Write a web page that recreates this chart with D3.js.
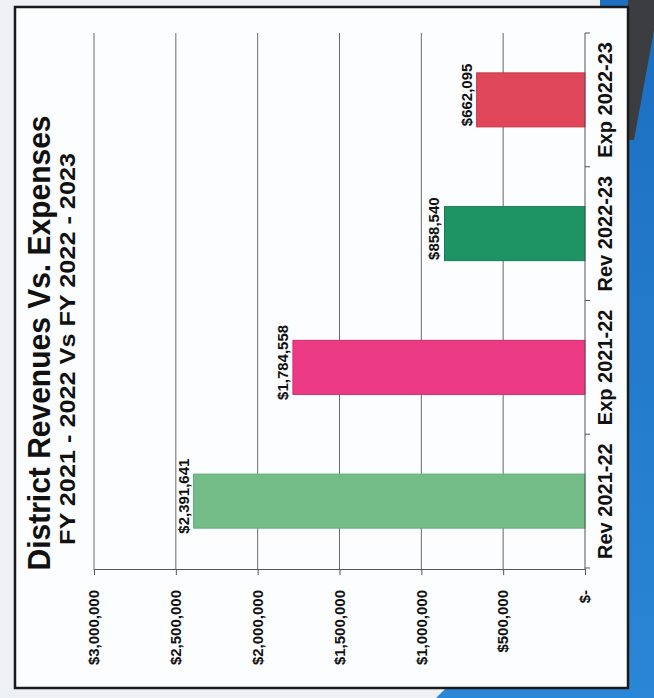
<!DOCTYPE html>
<html>
<head>
<meta charset="utf-8">
<script src="https://cdn.jsdelivr.net/npm/d3@7"></script>
<style>
  html, body { margin: 0; padding: 0; background: #f2f4f6; }
  svg { display: block; }
  text { font-family: "Liberation Sans", Arial, Helvetica, sans-serif; fill: #111; }
</style>
</head>
<body>
<svg id="chart" width="654" height="698"></svg>
<script>
// ---- data ----
const categories = ["Rev 2021-22", "Exp 2021-22", "Rev 2022-23", "Exp 2022-23"];
const values = [2391641, 1784558, 858540, 662095];
const barColors = ["#74bd89", "#ec3a84", "#1e9464", "#e0475a"];
const barStrokes = ["#5fae74", "#d22a70", "#177c52", "#c93649"];
const valueTicks = [0, 500000, 1000000, 1500000, 2000000, 2500000, 3000000];
const titleText = "District Revenues Vs. Expenses";
const subtitleText = "FY 2021 - 2022 Vs FY 2022 - 2023";

const W = 654, H = 698;
const svg = d3.select("#chart");

// ---- photo background (page + surroundings) ----
svg.append("rect").attr("width", W).attr("height", H).attr("fill", "#eef1f4");
const grad = svg.append("defs").append("linearGradient")
  .attr("id", "blueGrad").attr("x1", 0).attr("y1", 0).attr("x2", 0).attr("y2", 1);
grad.append("stop").attr("offset", 0).attr("stop-color", "#1d6fc0");
grad.append("stop").attr("offset", 1).attr("stop-color", "#2a86d6");
svg.append("polygon")
  .attr("points", "600,0 654,0 654,698 436,698 446,688 600,688")
  .attr("fill", "url(#blueGrad)");
svg.append("polygon")
  .attr("points", "586,0 654,0 654,30 634,140 628,140 628,0")
  .attr("fill", "#3b3d40");

// page
svg.append("rect")
  .attr("x", 15).attr("y", 7).attr("width", 613).attr("height", 681)
  .attr("fill", "#fbfdfe").attr("stroke", "#1a1a1a").attr("stroke-width", 2.5);

// ---- chart drawn in its own orientation, then rotated onto the page ----
const g = svg.append("g").attr("transform", `translate(0,${H}) rotate(-90)`);
// in g: x = 698 - imageY, y = imageX

const x = d3.scaleBand().domain(categories).range([130, 665]).paddingInner(0.596).paddingOuter(0.298);
const y = d3.scaleLinear().domain([0, 3000000]).range([585, 94]);

// gridlines
g.append("g").selectAll("line").data(valueTicks.filter(v => v > 0)).join("line")
  .attr("x1", 128).attr("x2", 665)
  .attr("y1", d => y(d)).attr("y2", d => y(d))
  .attr("stroke", "#6a6a6a").attr("stroke-width", 1);

// value axis
const fmt = v => v === 0 ? "$-" : "$" + d3.format(",")(v);
const yAxis = g.append("g").attr("transform", "translate(128,0)")
  .call(d3.axisLeft(y).tickValues(valueTicks).tickSize(5).tickPadding(15).tickFormat(fmt));
yAxis.select(".domain").attr("stroke", "#555");
yAxis.selectAll(".tick line").attr("stroke", "#555");
yAxis.selectAll("text").style("font-size", "15px").style("font-weight", "bold")
  .style("font-family", "'Liberation Sans', Arial, sans-serif").attr("fill", "#111");

// bars
g.append("g").selectAll("rect").data(values).join("rect")
  .attr("x", (d, i) => x(categories[i]))
  .attr("width", x.bandwidth())
  .attr("y", d => y(d))
  .attr("height", d => y(0) - y(d))
  .attr("fill", (d, i) => barColors[i])
  .attr("stroke", (d, i) => barStrokes[i]).attr("stroke-width", 1);

// category axis
const xAxis = g.append("g").attr("transform", `translate(0,${y(0)})`)
  .call(d3.axisBottom(x).tickSize(0).tickPadding(13));
xAxis.select(".domain").remove();
xAxis.selectAll("text").style("font-size", "20px").style("font-weight", "bold")
  .style("font-family", "'Liberation Sans', Arial, sans-serif").attr("fill", "#111");
g.append("line").attr("x1", 128).attr("x2", 665).attr("y1", y(0)).attr("y2", y(0))
  .attr("stroke", "#555");
const bounds = d3.range(categories.length + 1).map(i => x.range()[0] + i * x.step());
g.append("g").selectAll("line").data(bounds).join("line")
  .attr("x1", d => d).attr("x2", d => d)
  .attr("y1", y(0)).attr("y2", y(0) + 5).attr("stroke", "#555");

// value labels
g.append("g").selectAll("text").data(values).join("text")
  .attr("x", (d, i) => x(categories[i]) + x.bandwidth() / 2 + 5)
  .attr("y", d => y(d) - 5)
  .attr("text-anchor", "middle")
  .style("font-size", "15px").style("font-weight", "bold")
  .text(d => "$" + d3.format(",")(d));

// titles
g.append("text").attr("x", 355).attr("y", 50).attr("text-anchor", "middle")
  .attr("textLength", 455).attr("lengthAdjust", "spacingAndGlyphs")
  .style("font-size", "32px").style("font-weight", "bold").text(titleText);
g.append("text").attr("x", 349).attr("y", 75).attr("text-anchor", "middle")
  .attr("textLength", 392).attr("lengthAdjust", "spacingAndGlyphs")
  .style("font-size", "22px").style("font-weight", "bold").text(subtitleText);
</script>
</body>
</html>
